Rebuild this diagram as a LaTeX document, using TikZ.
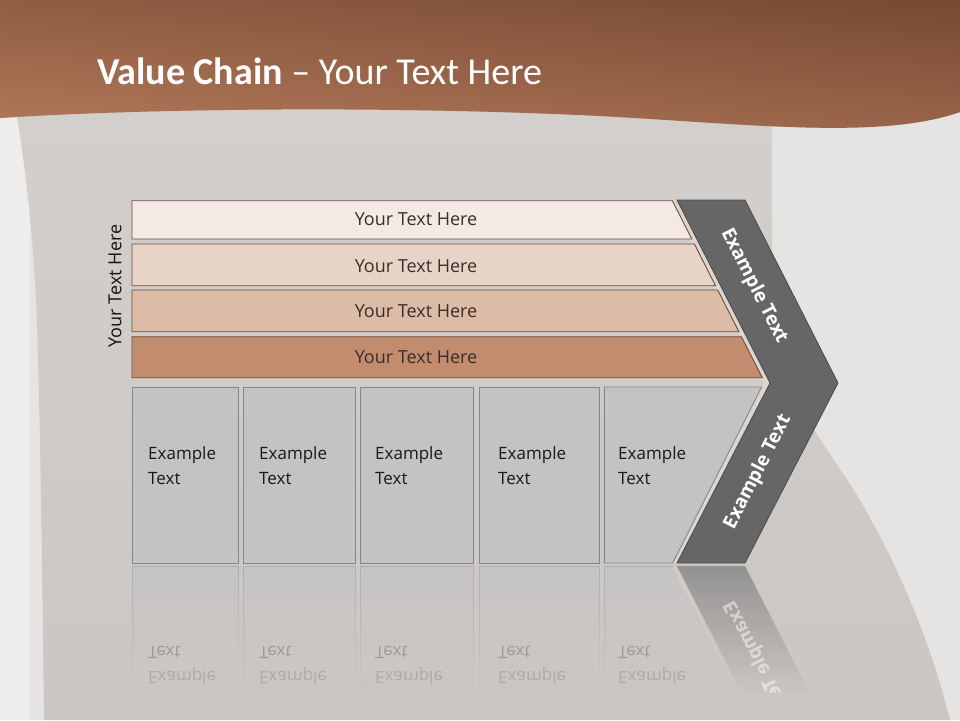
\documentclass[tikz,border=0pt]{standalone}
\usepackage{fontspec}
\setmainfont{Open Sans}
\newfontfamily\titlefont{Carlito}
\usetikzlibrary{fadings}
\definecolor{bglight}{HTML}{E6E4E2}
\definecolor{bgleft}{HTML}{EEEDEC}
\definecolor{bgdarktop}{HTML}{D3CFCC}
\definecolor{bgdarkbot}{HTML}{CAC6C3}
\definecolor{hdrtop}{HTML}{7C4E36}
\definecolor{hdrdark}{HTML}{6E422D}
\definecolor{hdrlight}{HTML}{B57B5C}
\definecolor{barA}{HTML}{F4EAE5}
\definecolor{barB}{HTML}{E7D4C7}
\definecolor{barC}{HTML}{DCBBA7}
\definecolor{barD}{HTML}{C48C6E}
\definecolor{barline}{HTML}{6E4A38}
\definecolor{bartxt}{HTML}{3A2E2A}
\definecolor{boxfill}{HTML}{C3C3C3}
\definecolor{boxline}{HTML}{878787}
\definecolor{chevfill}{HTML}{666666}
\definecolor{chevline}{HTML}{4A4A4A}
\definecolor{glow}{HTML}{DCD5D0}
\tikzfading[name=reflfade, top color=transparent!40, bottom color=transparent!100]
\tikzfading[name=chevfade, top color=transparent!45, bottom color=transparent!100]
\tikzset{
  barshape/.style={draw=barline, line width=0.9pt},
  bartext/.style={text=bartxt, font=\fontsize{18}{22}\selectfont, inner sep=0pt},
  boxshape/.style={draw=boxline, fill=boxfill, line width=0.9pt},
  boxtext/.style={text=black!90, font=\fontsize{17}{20}\selectfont, inner sep=0pt, anchor=base west},
  chevshape/.style={draw=chevline, fill=chevfill, line width=0.8pt},
  chevtext/.style={text=white, font=\bfseries\fontsize{19}{22}\selectfont, inner sep=0pt},
  reflbox/.style={fill=boxfill, path fading=reflfade},
  reflline/.style={draw=boxline!80, line width=0.8pt, path fading=reflfade},
}
\begin{document}
\begin{tikzpicture}[x=1pt,y=-1pt]
\useasboundingbox (0,0) rectangle (960,720);
% background
\fill[bglight] (0,0) rectangle (960,720);
\fill[bgleft] (0,100) rectangle (30,720);
\shade[top color=bgdarktop, bottom color=bgdarkbot]
  (16,110) -- (772,110) -- (772,330) .. controls (785,400) and (830,450) .. (860,500)
  .. controls (900,570) and (930,640) .. (950,720) -- (44,720)
  .. controls (42,550) and (40,400) .. (36,300) .. controls (32,220) and (24,160) .. (16,110) -- cycle;
% header
\shade[top color=hdrtop, bottom color=hdrlight]
  (0,0) -- (960,0) -- (960,112) .. controls (880,140) and (750,124) .. (600,116)
  .. controls (400,106) and (150,108) .. (0,118) -- cycle;
\shade[left color=hdrlight, right color=hdrdark, opacity=0.35]
  (0,0) -- (960,0) -- (960,112) .. controls (880,140) and (750,124) .. (600,116)
  .. controls (400,106) and (150,108) .. (0,118) -- cycle;
\node[anchor=base west, inner sep=0pt, text=white, font=\titlefont\fontsize{38}{40}\selectfont]
  (title) at (97,84) {\textbf{Value Chain} – Your Text Here};
% glow strip along chevron
\fill[glow] (671,200) -- (677,200) -- (770,383) -- (677,563) -- (671,563) -- (764,383) -- cycle;
% bars
\draw[barshape, fill=barA] (132,200.7) -- (672.4,200.7) -- (691.8,239) -- (132,239) -- cycle;
\draw[barshape, fill=barB] (132,244) -- (694.4,244) -- (715.5,285.7) -- (132,285.7) -- cycle;
\draw[barshape, fill=barC] (132,290) -- (717.7,290) -- (738.9,331.7) -- (132,331.7) -- cycle;
\draw[barshape, fill=barD] (132,336.7) -- (741.4,336.7) -- (762.3,377.7) -- (132,377.7) -- cycle;
\node[bartext] (t1) at (416,219) {Your Text Here};
\node[bartext] (t2) at (416,266) {Your Text Here};
\node[bartext] (t3) at (416,311.5) {Your Text Here};
\node[bartext] (t4) at (416,357) {Your Text Here};
\node[bartext, text=black!92, rotate=90] (side) at (115,286) {Your Text Here};
% boxes
\draw[boxshape] (132.3,387) rectangle (238.3,563);
\draw[boxshape] (243.3,387) rectangle (355.3,563);
\draw[boxshape] (360.3,387) rectangle (473.3,563);
\draw[boxshape] (479,387) rectangle (599.3,563);
\draw[boxshape] (604.3,387) -- (761.7,387) -- (672.7,563) -- (604.3,563) -- cycle;
\foreach \x [count=\i] in {148,259,375,498,618} {
  \node[boxtext] (ex\i) at (\x,459) {Example};
  \node[boxtext] (tx\i) at (\x,484) {Text};
}
% chevron
\draw[chevshape] (677,200) -- (745,200) -- (838,383) -- (745,563) -- (677,563) -- (770,383) -- cycle;
\node[chevtext, rotate=-63] (c1) at (754,286) {Example Text};
\node[chevtext, rotate=63] (c2) at (758,472) {Example Text};
% reflections
\foreach \a/\b in {132.3/238.3, 243.3/355.3, 360.3/473.3, 479/599.3} {
  \path[reflbox] (\a,566) rectangle (\b,695);
  \path[reflline] (\a,695) -- (\a,566) -- (\b,566) -- (\b,695);
}
\path[reflbox] (604.3,566) -- (672.7,566) -- (737.5,695) -- (604.3,695) -- cycle;
\path[reflline] (604.3,695) -- (604.3,566) -- (672.7,566);
\path[fill=chevfill, path fading=chevfade] (677,566) -- (745,566) -- (810.5,695) -- (742.5,695) -- cycle;
\path[draw=glow, line width=1.5pt, path fading=chevfade] (674,567) -- (738,692);
\begin{scope}
  \clip (100,566) rectangle (860,692);
  \begin{scope}[shift={(0,1130)}, yscale=-1, transform shape]
    \foreach \x [count=\i] in {148,259,375,498,618} {
      \node[boxtext, opacity=0.16] (rex\i) at (\x,459) {Example};
      \node[boxtext, opacity=0.25] (rtx\i) at (\x,484) {Text};
    }
    \node[chevtext, rotate=63, opacity=0.5] (rc2) at (758,472) {Example Text};
  \end{scope}
\end{scope}
\end{tikzpicture}
\end{document}
